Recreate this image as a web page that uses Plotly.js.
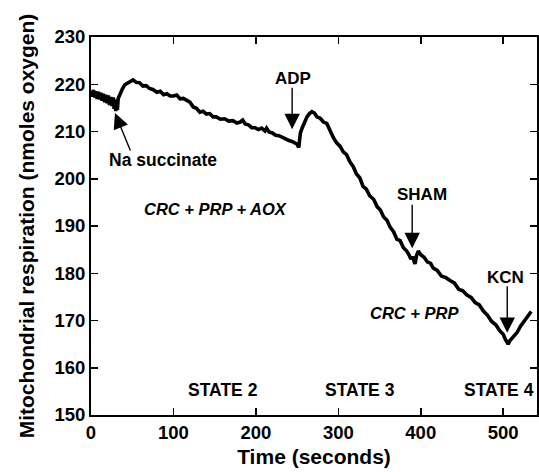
<!DOCTYPE html>
<html>
<head>
<meta charset="utf-8">
<script src="https://cdn.plot.ly/plotly-3.0.1.min.js"></script>
<style>html,body{margin:0;padding:0;background:#fff;}#chart{width:539px;height:472px;}</style>
</head>
<body>
<div id="chart"></div>
<script>
// Time (seconds)
var timeSec = [0,1.5,3,4.5,6,7.5,9,10.5,12,13.5,15,16.5,18,19.5,21,22.5,24,25.5,27,28,29,30,31,32,33,35,38,41,44,47,51,55,59,63,67,71,75,80,84,88,92,96,100,104,108,112,116,120,124,128,132,136,140,144,148,152,157,162,167,172,177,181,184,187,191,195,199,203,207,211,213,216,220,224,228,232,236,240,244,248,250,252,253,254,256,259,262,265,268,271,274,278,282,286,290,294,298,302,306,310,314,318,322,326,330,334,338,343,347,351,355,359,363,367,371,375,379,383,386,388,390,393,395,397,400,404,408,412,415,420,425,430,436,441,446,451,456,461,466,471,476,481,486,491,496,500,503,506,508,511,514,517,521,524,528,531,534];
// Oxygen (nmoles)
var oxygen = [218.6,217.4,218.8,217.2,218.5,216.9,218.4,216.8,218.2,216.5,218.0,216.2,217.8,216.0,217.6,215.6,217.3,215.4,217.2,214.8,216.8,214.3,216.5,214.6,217.0,218.0,219.0,219.9,220.2,220.7,220.9,220.4,220.3,219.6,219.7,219.1,218.9,218.3,218.5,217.8,218.0,217.5,217.5,217.7,216.9,217.0,216.5,216.2,215.2,214.9,214.1,214.3,213.7,213.8,213.1,213.1,212.6,212.7,212.2,212.3,211.8,212.0,212.4,211.6,211.4,210.8,210.8,210.4,210.7,210.1,210.7,209.9,209.7,209.2,209.1,208.7,208.5,208.1,207.9,207.4,207.3,206.6,208.5,209.7,210.7,212.0,213.1,213.8,214.2,213.9,213.1,212.8,212.0,211.7,210.0,208.7,207.6,206.9,205.7,205.1,203.6,202.6,201.0,200.2,198.4,197.8,196.4,195.6,194.1,193.4,191.9,191.2,189.7,188.8,187.2,186.9,185.4,184.7,183.8,183.0,183.5,182.0,183.8,184.7,183.9,183.4,182.4,182.1,181.1,180.6,179.4,179.1,178.4,177.9,176.6,176.3,175.4,174.9,173.8,173.3,172.0,171.1,169.8,169.1,167.8,167.1,165.9,165.0,165.7,166.3,167.0,167.5,168.8,169.5,170.5,170.9,171.9];

var xTicks = [0,100,200,300,400,500];
var yTicks = [150,160,170,180,190,200,210,220,230];

// Event markers: label, time, oxygen level at arrow tip
var eventLabels = ['ADP','SHAM','KCN'];
var eventTimes = [244, 389.6, 504.9];
var eventLevels = [210.5, 185.3, 167.4];

var stateLabels = ['STATE 2','STATE 3','STATE 4'];
var stateTimes = [160, 326.5, 495];

var FONT = 'Liberation Sans, Arial, Helvetica, sans-serif';

var annotations = [];
// Na succinate arrow + label
annotations.push({x:29.1, y:213.9, xref:'x', yref:'y', text:'', showarrow:true, ax:16, ay:39,
  arrowhead:2, arrowsize:2.2, arrowwidth:1.4, arrowcolor:'#000'});
annotations.push({x:87, y:204, xref:'x', yref:'y', text:'<b>Na succinate</b>', showarrow:false,
  font:{family:FONT, size:17.5, color:'#000'}});
// Event arrows and labels
var labelOffsets = [-51, -53, -56];
for (var i = 0; i < eventLabels.length; i++) {
  annotations.push({x:eventTimes[i], y:eventLevels[i], xref:'x', yref:'y', text:'', showarrow:true,
    ax:0, ay:labelOffsets[i] + 8, arrowhead:2, arrowsize:2.2, arrowwidth:1.4, arrowcolor:'#000'});
}
var labelPos = [[245,221.3],[401.7,196.6],[502.4,179.2]];
for (var j = 0; j < eventLabels.length; j++) {
  annotations.push({x:labelPos[j][0], y:labelPos[j][1], xref:'x', yref:'y', text:'<b>'+eventLabels[j]+'</b>',
    showarrow:false, font:{family:FONT, size:17, color:'#000'}});
}
// Condition labels
annotations.push({x:150.5, y:193.6, xref:'x', yref:'y', text:'<b><i>CRC + PRP + AOX</i></b>', showarrow:false,
  font:{family:FONT, size:16.5, color:'#000'}});
annotations.push({x:392, y:171.6, xref:'x', yref:'y', text:'<b><i>CRC + PRP</i></b>', showarrow:false,
  font:{family:FONT, size:16.5, color:'#000'}});
for (var k = 0; k < stateLabels.length; k++) {
  annotations.push({x:stateTimes[k], y:155.3, xref:'x', yref:'y', text:'<b>'+stateLabels[k]+'</b>', showarrow:false,
    font:{family:FONT, size:17.5, color:'#000'}});
}

var trace = {x:timeSec, y:oxygen, type:'scatter', mode:'lines',
  line:{color:'#000', width:3.6}, hoverinfo:'skip'};

var layout = {
  width:539, height:472,
  margin:{l:91, r:2, t:37, b:57},
  paper_bgcolor:'#fff', plot_bgcolor:'#fff',
  showlegend:false,
  xaxis:{range:[0,541], tickvals:xTicks, ticks:'inside', ticklen:7, tickwidth:1.5, tickcolor:'#000',
    showline:true, linewidth:2, linecolor:'#000', mirror:'ticks', showgrid:false, zeroline:false,
    tickfont:{family:FONT, size:18.5, color:'#000', weight:'bold'},
    title:{text:'<b>Time (seconds)</b>', font:{family:FONT, size:21, color:'#000'}, standoff:7}},
  yaxis:{range:[150,230], tickvals:yTicks, ticks:'inside', ticklen:7, tickwidth:1.5, tickcolor:'#000',
    showline:true, linewidth:2, linecolor:'#000', mirror:'ticks', showgrid:false, zeroline:false,
    tickfont:{family:FONT, size:18.5, color:'#000', weight:'bold'},
    title:{text:'<b>Mitochondrial respiration (nmoles oxygen)</b>', font:{family:FONT, size:21, color:'#000'}, standoff:14}},
  annotations:annotations
};

Plotly.newPlot('chart', [trace], layout, {staticPlot:true, displayModeBar:false});
</script>
</body>
</html>
